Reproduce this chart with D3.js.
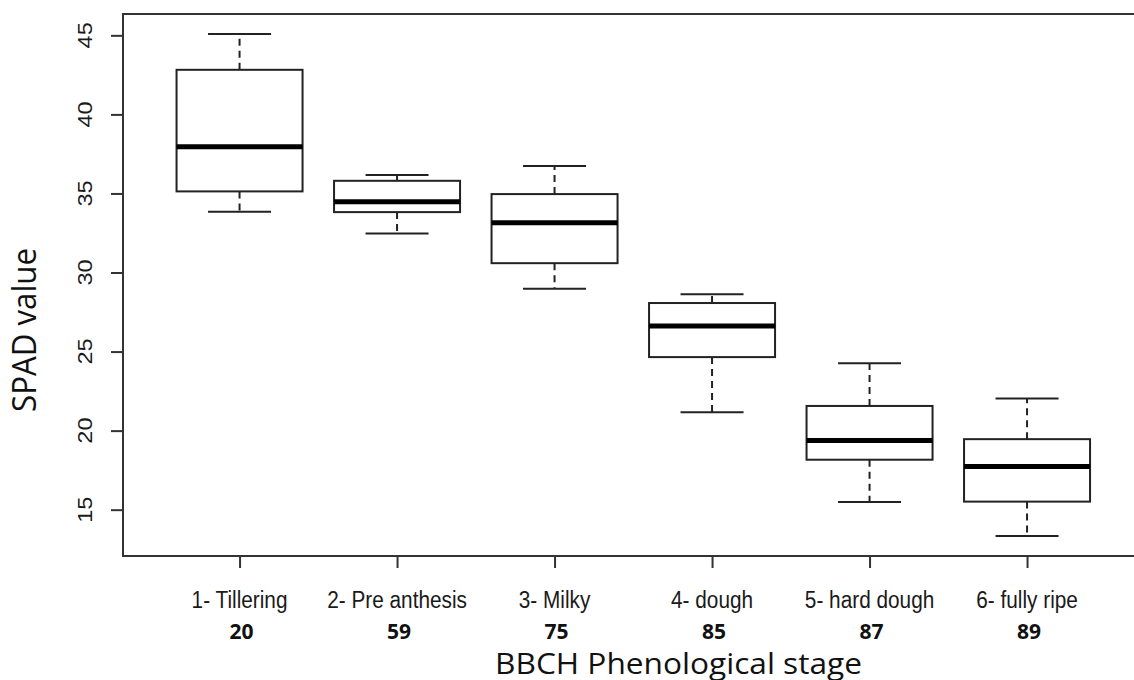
<!DOCTYPE html>
<html>
<head>
<meta charset="utf-8">
<script src="https://cdn.jsdelivr.net/npm/d3@7"></script>
<style>
  html, body { margin: 0; padding: 0; background: #fff; }
</style>
</head>
<body>
<div id="chart"></div>
<script>
// Stage names, BBCH codes and boxplot stats
const stages = ["1- Tillering", "2- Pre anthesis", "3- Milky", "4- dough", "5- hard dough", "6- fully ripe"];
const bbch = ["20", "59", "75", "85", "87", "89"];
const whiskLow = [33.84, 32.46, 28.98, 21.16, 15.49, 13.34];
const q1 = [35.13, 33.82, 30.59, 24.65, 18.16, 15.51];
const median = [37.96, 34.47, 33.14, 26.61, 19.38, 17.73];
const q3 = [42.82, 35.80, 34.96, 28.07, 21.56, 19.46];
const whiskHigh = [45.08, 36.17, 36.74, 28.62, 24.26, 22.03];
const yTicks = [15, 20, 25, 30, 35, 40, 45];

const width = 1134, height = 680;
const margin = { top: 14, left: 123, bottom: 124 };
const squeeze = 0.885; // the original picture is a little narrow

const svg = d3.select("#chart").append("svg")
    .attr("width", width)
    .attr("height", height);

// R style ranges: 0.5..n+0.5 extended by 4%
const n = stages.length;
const xPad = n * 0.04;
const x = d3.scaleLinear()
    .domain([0.5 - xPad, n + 0.5 + xPad])
    .range([margin.left, margin.left + 1020.6]);
const yMin = d3.min(whiskLow), yMax = d3.max(whiskHigh);
const yPad = (yMax - yMin) * 0.04;
const y = d3.scaleLinear()
    .domain([yMin - yPad, yMax + yPad])
    .range([height - margin.bottom, margin.top]);

const boxes = stages.map((s, i) => ({
    pos: i + 1, lo: whiskLow[i], q1: q1[i], med: median[i], q3: q3[i], hi: whiskHigh[i]
}));
const boxW = (x(2) - x(1)) * 0.8;
const ink = "#222";

// frame
svg.append("rect")
    .attr("x", x.range()[0]).attr("y", y.range()[1])
    .attr("width", x.range()[1] - x.range()[0])
    .attr("height", y.range()[0] - y.range()[1])
    .attr("fill", "none").attr("stroke", "#333").attr("stroke-width", 2);

// boxes
const g = svg.selectAll(".box").data(boxes).enter().append("g").attr("class", "box");

g.append("line") // upper whisker
    .attr("x1", d => x(d.pos)).attr("x2", d => x(d.pos))
    .attr("y1", d => y(d.q3)).attr("y2", d => y(d.hi))
    .attr("stroke", ink).attr("stroke-width", 2).attr("stroke-dasharray", "7,5");
g.append("line") // lower whisker
    .attr("x1", d => x(d.pos)).attr("x2", d => x(d.pos))
    .attr("y1", d => y(d.q1)).attr("y2", d => y(d.lo))
    .attr("stroke", ink).attr("stroke-width", 2).attr("stroke-dasharray", "7,5");
g.append("line")
    .attr("x1", d => x(d.pos) - boxW / 4).attr("x2", d => x(d.pos) + boxW / 4)
    .attr("y1", d => y(d.hi)).attr("y2", d => y(d.hi))
    .attr("stroke", ink).attr("stroke-width", 2);
g.append("line")
    .attr("x1", d => x(d.pos) - boxW / 4).attr("x2", d => x(d.pos) + boxW / 4)
    .attr("y1", d => y(d.lo)).attr("y2", d => y(d.lo))
    .attr("stroke", ink).attr("stroke-width", 2);
g.append("rect")
    .attr("x", d => x(d.pos) - boxW / 2).attr("width", boxW)
    .attr("y", d => y(d.q3)).attr("height", d => y(d.q1) - y(d.q3))
    .attr("fill", "#fff").attr("stroke", ink).attr("stroke-width", 2);
g.append("line")
    .attr("x1", d => x(d.pos) - boxW / 2).attr("x2", d => x(d.pos) + boxW / 2)
    .attr("y1", d => y(d.med)).attr("y2", d => y(d.med))
    .attr("stroke", "#000").attr("stroke-width", 5);

// y axis
const yAxis = svg.append("g")
    .attr("transform", `translate(${x.range()[0]},0)`)
    .call(d3.axisLeft(y).tickValues(yTicks).tickSize(12).tickFormat(""));
yAxis.select(".domain").remove();
yAxis.selectAll(".tick line").attr("stroke", "#333").attr("stroke-width", 2);
svg.selectAll(".ylab").data(yTicks).enter().append("text")
    .attr("transform", d => `translate(92,${y(d)}) scale(${squeeze},1) rotate(-90)`)
    .attr("text-anchor", "middle")
    .style("font-family", "'Liberation Sans', Arial, sans-serif")
    .style("font-size", "23.5px")
    .attr("fill", "#1a1a1a")
    .text(d => d);

// x axis
const xAxis = svg.append("g")
    .attr("transform", `translate(0,${y.range()[0]})`)
    .call(d3.axisBottom(x).tickValues(boxes.map(d => d.pos)).tickSize(12).tickFormat(""));
xAxis.select(".domain").remove();
xAxis.selectAll(".tick line").attr("stroke", "#333").attr("stroke-width", 2);
svg.selectAll(".xlab").data(boxes).enter().append("text")
    .attr("transform", d => `translate(${x(d.pos)},608) scale(${squeeze},1)`)
    .attr("text-anchor", "middle")
    .style("font-family", "'Liberation Sans', Arial, sans-serif")
    .style("font-size", "23.5px")
    .attr("fill", "#1a1a1a")
    .text((d, i) => stages[i]);
svg.selectAll(".code").data(boxes).enter().append("text")
    .attr("x", d => x(d.pos) + 2).attr("y", 639)
    .attr("text-anchor", "middle")
    .style("font-family", "'Open Sans', sans-serif")
    .style("font-weight", "bold")
    .style("font-size", "21px")
    .attr("fill", "#111")
    .text((d, i) => bbch[i]);

// axis titles
svg.append("text")
    .attr("x", 495).attr("y", 674)
    .attr("textLength", 367).attr("lengthAdjust", "spacingAndGlyphs")
    .style("font-family", "'Open Sans', sans-serif")
    .style("font-size", "30px")
    .attr("fill", "#111")
    .text("BBCH Phenological stage");
svg.append("text")
    .attr("transform", "translate(36,412) rotate(-90)")
    .attr("textLength", 164).attr("lengthAdjust", "spacingAndGlyphs")
    .style("font-family", "'Open Sans', sans-serif")
    .style("font-size", "32px")
    .attr("fill", "#111")
    .text("SPAD value");
</script>
</body>
</html>
